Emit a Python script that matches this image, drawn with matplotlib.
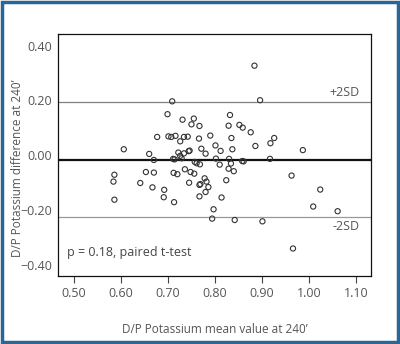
import matplotlib
matplotlib.use("Agg")
import matplotlib.pyplot as plt
from matplotlib.patches import Rectangle

plt.rcParams['font.family'] = ['Open Sans', 'DejaVu Sans']

# mean of the two measurements (x) and their difference (y)
mean_val = [0.884, 0.896, 0.709, 0.699, 0.731, 0.755, 0.750, 0.767, 0.832, 0.829,
            0.852, 0.859, 0.876, 0.926, 0.918, 0.886, 0.677, 0.701, 0.707, 0.716,
            0.734, 0.742, 0.726, 0.766, 0.790, 0.835, 0.801, 0.837, 0.771, 0.606,
            0.660, 0.670, 0.744, 0.746, 0.722, 0.726, 0.734, 0.729, 0.711, 0.714,
            0.780, 0.802, 0.812, 0.830, 0.834, 0.810, 0.858, 0.861, 0.917, 0.987,
            0.757, 0.761, 0.768, 0.586, 0.584, 0.586, 0.653, 0.670, 0.641, 0.667,
            0.692, 0.691, 0.713, 0.712, 0.720, 0.736, 0.748, 0.756, 0.745, 0.767,
            0.769, 0.778, 0.782, 0.786, 0.780, 0.767, 0.814, 0.824, 0.829, 0.840,
            0.797, 0.794, 0.842, 0.901, 0.963, 1.024, 1.009, 1.061, 0.966]
diff_val = [0.327, 0.201, 0.197, 0.150, 0.130, 0.134, 0.113, 0.107, 0.147, 0.108,
            0.111, 0.101, 0.084, 0.063, 0.044, 0.034, 0.067, 0.069, 0.067, 0.071,
            0.067, 0.068, 0.051, 0.061, 0.072, 0.063, 0.036, 0.022, 0.024, 0.022,
            0.005, -0.017, 0.015, 0.017, 0.010, -0.002, 0.007, -0.011, -0.013, -0.015,
            0.006, -0.012, 0.016, -0.013, -0.030, -0.034, -0.021, -0.022, -0.013, 0.019,
            -0.024, -0.029, -0.033, -0.071, -0.096, -0.162, -0.061, -0.063, -0.101, -0.117,
            -0.126, -0.153, -0.171, -0.064, -0.069, -0.051, -0.061, -0.067, -0.100, -0.108,
            -0.105, -0.084, -0.096, -0.116, -0.134, -0.150, -0.154, -0.091, -0.049, -0.058,
            -0.197, -0.231, -0.236, -0.241, -0.074, -0.125, -0.187, -0.204, -0.340]

mean_diff = -0.018
upper_sd = 0.193
lower_sd = -0.225

xticks = [0.50, 0.60, 0.70, 0.80, 0.90, 1.00, 1.10]
yticks = [-0.40, -0.20, 0.00, 0.20, 0.40]

fig = plt.figure(figsize=(4.0, 3.44), dpi=100)
ax = fig.add_axes([0.145, 0.198, 0.7825, 0.7035])

ax.axhline(upper_sd, color='#808080', lw=0.9, zorder=1)
ax.axhline(lower_sd, color='#999999', lw=0.9, zorder=1)
ax.axhline(mean_diff, color='#111111', lw=1.6, zorder=1)

ax.scatter(mean_val, diff_val, s=14, facecolors='none', edgecolors='#333333',
           linewidths=0.8, zorder=2)

ax.set_xlim(0.466, 1.132)
ax.set_ylim(-0.44, 0.443)
ax.set_xticks(xticks)
ax.set_xticklabels(['%.2f' % v for v in xticks])
ax.set_yticks(yticks)
ax.set_yticklabels([('%.2f' % v).replace('-', '\u2212') for v in yticks])
ax.tick_params(axis='x', direction='out', length=5, width=0.8, color='#444444',
               labelsize=9, labelcolor='#555555', pad=3)
ax.tick_params(axis='y', length=0, labelsize=9, labelcolor='#555555', pad=4)
for sp in ax.spines.values():
    sp.set_linewidth(0.9)
    sp.set_color('#111111')

ax.set_xlabel('D/P Potassium mean value at 240\u2019', fontsize=8.5, color='#555555')
ax.set_ylabel('D/P Potassium difference at 240\u2019', fontsize=8.5, color='#555555')
ax.xaxis.set_label_coords(0.5, -0.195)
ax.yaxis.set_label_coords(-0.11, 0.446)

ax.text(0.965, upper_sd + 0.012, '+2SD', transform=ax.get_yaxis_transform(),
        ha='right', va='bottom', fontsize=9, color='#555555')
ax.text(0.965, lower_sd - 0.012, '-2SD', transform=ax.get_yaxis_transform(),
        ha='right', va='top', fontsize=9, color='#555555')
ax.text(0.029, 0.095, 'p = 0.18, paired t-test', transform=ax.transAxes,
        ha='left', va='center', fontsize=9, color='#444444')

# blue frame around the whole figure
fig.patches.append(Rectangle((0.004, 0.005), 0.992, 0.99, transform=fig.transFigure,
                             fill=False, edgecolor='#2a6796', lw=2.5))

fig.savefig('out.png', dpi=100)
